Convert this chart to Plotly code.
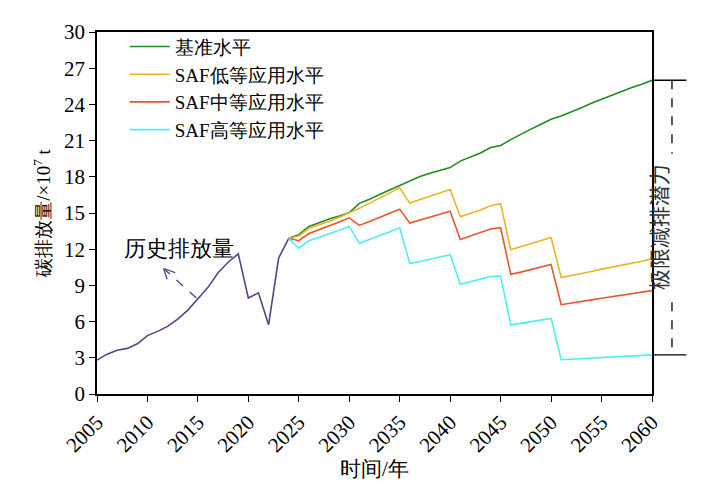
import plotly.graph_objects as go

hist_years = list(range(2005, 2025))
hist_vals = [2.81, 3.3, 3.62, 3.78, 4.16, 4.84, 5.19, 5.6, 6.2, 6.95, 7.9, 8.84,
             10.05, 10.92, 11.62, 7.95, 8.38, 5.73, 11.27, 12.9]

scen_years = list(range(2024, 2061))
base = [12.9, 13.2, 13.89, 14.2, 14.5, 14.75, 15.03, 15.8, 16.13, 16.54, 16.92, 17.25,
        17.65, 18.03, 18.3, 18.54, 18.76, 19.3, 19.65, 19.98, 20.43, 20.6,
        21.08, 21.54, 21.95, 22.35, 22.76, 23.03, 23.35, 23.73, 24.1, 24.43,
        24.7, 25.05, 25.4, 25.67, 26.0]
low = [12.9, 13.1, 13.73, 14.0, 14.3, 14.65, 15.0, 15.4, 15.8, 16.25, 16.65, 17.08,
       15.82, 16.1, 16.4, 16.7, 16.95, 14.68, 14.97, 15.24, 15.6, 15.77,
       11.95, 12.2, 12.45, 12.7, 12.97, 9.65, 9.8, 10.0, 10.15, 10.35,
       10.5, 10.65, 10.85, 11.0, 11.22]
mid = [12.9, 12.7, 13.3, 13.6, 13.95, 14.25, 14.6, 13.97, 14.3, 14.65, 15.0, 15.32,
       14.16, 14.4, 14.65, 14.9, 15.14, 12.81, 13.08, 13.35, 13.68, 13.78,
       9.92, 10.1, 10.3, 10.5, 10.73, 7.4, 7.55, 7.68, 7.8, 7.93,
       8.05, 8.18, 8.3, 8.43, 8.57]
high = [12.9, 12.08, 12.7, 12.98, 13.28, 13.58, 13.89, 12.49, 12.8, 13.1, 13.45, 13.78,
        10.81, 10.98, 11.15, 11.35, 11.54, 9.1, 9.3, 9.51, 9.73, 9.78,
        5.73, 5.85, 5.98, 6.12, 6.27, 2.84, 2.88, 2.93, 2.97, 3.02,
        3.06, 3.1, 3.15, 3.2, 3.24]

names = ["基准水平", "SAF低等应用水平", "SAF中等应用水平", "SAF高等应用水平"]
colors = ["#1E8C1E", "#E8B524", "#E8562C", "#4DEEF2"]
hist_color = "#4A4A88"

x_ticks = list(range(2005, 2061, 5))
y_ticks = list(range(0, 31, 3))

FONT = "Liberation Serif"

fig = go.Figure()
fig.add_trace(go.Scatter(x=hist_years, y=hist_vals, mode="lines",
                         line=dict(color=hist_color, width=1.6), showlegend=False))
for nm, vals, c in zip(names, [base, low, mid, high], colors):
    fig.add_trace(go.Scatter(x=scen_years, y=vals, mode="lines", name=nm,
                             line=dict(color=c, width=1.6)))

# bracket on the right showing the limit reduction potential
top_v, bot_v = base[-1], high[-1]
for v in (top_v, bot_v):
    fig.add_shape(type="line", xref="paper", yref="y", x0=1.0, x1=1.062, y0=v, y1=v,
                  line=dict(color="black", width=1.3))
fig.add_shape(type="line", xref="paper", yref="y", x0=1.036, x1=1.036, y0=top_v, y1=19.9,
              line=dict(color="black", width=1.3, dash="dash"))
fig.add_shape(type="line", xref="paper", yref="y", x0=1.036, x1=1.036, y0=7.6, y1=bot_v,
              line=dict(color="black", width=1.3, dash="dash"))
fig.add_annotation(xref="paper", yref="y", x=1.043, y=13.8,
                   text="极限减排潜力", textangle=-90, showarrow=False,
                   font=dict(family="Noto Sans CJK SC", size=21, color="#333333"))

# history label with dashed arrow
fig.add_annotation(x=2013.1, y=12.05, text="历史排放量", showarrow=False,
                   font=dict(family=FONT, size=22, color="black"))
fig.add_shape(type="line", x0=2014.85, y0=7.95, x1=2011.75, y1=10.3,
              line=dict(color=hist_color, width=1.4, dash="dash"))
for ex, ey in ((2012.75, 10.05), (2011.95, 9.5)):
    fig.add_shape(type="line", x0=2011.6, y0=10.4, x1=ex, y1=ey,
                  line=dict(color=hist_color, width=1.3))

fig.update_layout(
    width=704, height=482,
    margin=dict(l=89, r=60, t=16, b=96),
    paper_bgcolor="white", plot_bgcolor="white",
    font=dict(family=FONT, size=19, color="black"),
    legend=dict(x=0.05, y=1.012, xanchor="left", yanchor="top",
                bgcolor="rgba(0,0,0,0)", font=dict(family=FONT, size=19),
                tracegroupgap=0, itemwidth=40),
    xaxis=dict(range=[2005, 2060], tickvals=x_ticks, tickangle=-45,
               showgrid=False, zeroline=False, showline=True, linecolor="black",
               linewidth=1.5, mirror=True, ticks="outside", ticklen=6,
               tickcolor="black", tickwidth=1.3,
               tickfont=dict(family=FONT, size=21),
               title=dict(text="时间/年", font=dict(family=FONT, size=21), standoff=4)),
    yaxis=dict(range=[0, 30], tickvals=y_ticks,
               showgrid=False, zeroline=False, showline=True, linecolor="black",
               linewidth=1.5, mirror=True, ticks="outside", ticklen=6,
               tickcolor="black", tickwidth=1.3,
               tickfont=dict(family=FONT, size=21),
               title=dict(text="碳排放量/×10<sup>7</sup> t", font=dict(family=FONT, size=19),
                          standoff=8)),
)

fig.write_html("out.html")
